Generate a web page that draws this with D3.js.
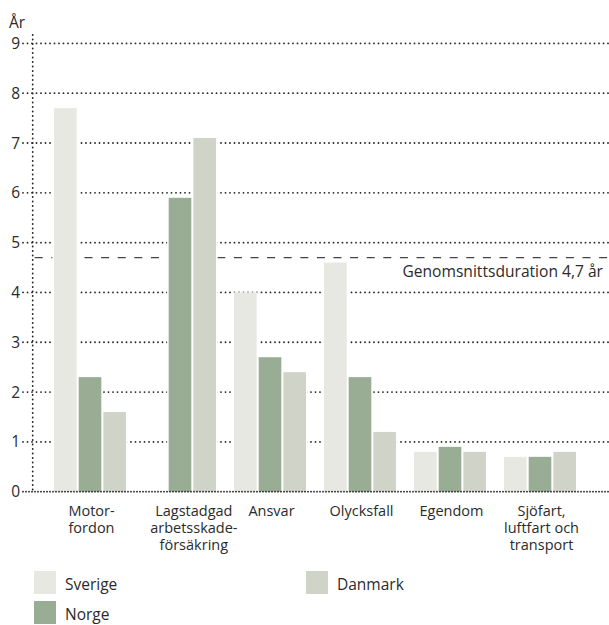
<!DOCTYPE html>
<html>
<head>
<meta charset="utf-8">
<script src="https://cdn.jsdelivr.net/npm/d3@7/dist/d3.min.js"></script>
<style>
  html, body { margin: 0; padding: 0; background: #fff; }
  svg text { font-family: "Open Sans", "Noto Sans", sans-serif; fill: #2b2b2b; }
</style>
</head>
<body>
<svg id="chart" width="609" height="625"></svg>
<script>
// Duration per line of business, in years
const categories = [
  ["Motor-", "fordon"],
  ["Lagstadgad", "arbetsskade-", "försäkring"],
  ["Ansvar"],
  ["Olycksfall"],
  ["Egendom"],
  ["Sjöfart,", "luftfart och", "transport"]
];
const seriesNames = ["Sverige", "Norge", "Danmark"];
const sverige = [7.7, null, 4.0, 4.6, 0.8, 0.7];
const norge   = [2.3, 5.9, 2.7, 2.3, 0.9, 0.7];
const danmark = [1.6, 7.1, 2.4, 1.2, 0.8, 0.8];
const yTicks = [0, 1, 2, 3, 4, 5, 6, 7, 8, 9];
const averageDuration = 4.7;
const averageLabel = "Genomsnittsduration 4,7 år";
const yAxisTitle = "År";

const colors = ["#e6e8e1", "#98ad93", "#d0d3c8"];
const seriesValues = [sverige, norge, danmark];

const svg = d3.select("#chart");
const W = 609;

const y = d3.scaleLinear().domain([0, 9]).range([491.7, 43.4]);
const x0 = d3.scaleBand().domain(d3.range(categories.length)).range([45, 585]).padding(0);
const x1 = d3.scaleBand().domain(d3.range(seriesNames.length))
  .range([(90 - 72) / 2, (90 - 72) / 2 + 72]).paddingInner(2 / 24).paddingOuter(0);

const axisLeft = 32.7;
const gridStart = 23;
const dotColor = "#222";

// dotted horizontal gridlines (with short tick stubs left of the axis)
svg.append("g").selectAll("line").data(yTicks.filter(d => d > 0)).join("line")
  .attr("x1", gridStart).attr("x2", W)
  .attr("y1", d => y(d)).attr("y2", d => y(d))
  .attr("stroke", dotColor).attr("stroke-width", 1.8)
  .attr("stroke-linecap", "round").attr("stroke-dasharray", "0,4.5");

// average duration reference line
svg.append("line")
  .attr("x1", axisLeft + 2).attr("x2", W)
  .attr("y1", y(averageDuration)).attr("y2", y(averageDuration))
  .attr("stroke", "#444").attr("stroke-width", 1.4)
  .attr("stroke-dasharray", "8,8.6");

svg.append("text")
  .attr("x", 603).attr("y", 277)
  .attr("text-anchor", "end")
  .attr("font-size", 15.6)
  .text(averageLabel);

// bars, each with a thin white margin that breaks the gridlines
const barData = [];
categories.forEach((c, i) => {
  seriesValues.forEach((vals, s) => {
    if (vals[i] != null) barData.push({ i, s, v: vals[i] });
  });
});

const bars = svg.append("g");
bars.selectAll("rect.gap").data(barData).join("rect")
  .attr("class", "gap")
  .attr("x", d => x0(d.i) + x1(d.s) - 1.6)
  .attr("width", x1.bandwidth() + 3.2)
  .attr("y", d => y(d.v))
  .attr("height", d => y(0) - y(d.v))
  .attr("fill", "#fff");
bars.selectAll("rect.bar").data(barData).join("rect")
  .attr("class", "bar")
  .attr("x", d => x0(d.i) + x1(d.s))
  .attr("width", x1.bandwidth())
  .attr("y", d => y(d.v))
  .attr("height", d => y(0) - y(d.v))
  .attr("fill", d => colors[d.s]);

// axes (dotted)
svg.append("line")
  .attr("x1", axisLeft).attr("x2", axisLeft)
  .attr("y1", 35).attr("y2", y(0))
  .attr("stroke", dotColor).attr("stroke-width", 1.8)
  .attr("stroke-linecap", "round").attr("stroke-dasharray", "0,4.5");
svg.append("line")
  .attr("x1", gridStart).attr("x2", W)
  .attr("y1", y(0)).attr("y2", y(0))
  .attr("stroke", dotColor).attr("stroke-width", 1.8)
  .attr("stroke-linecap", "round").attr("stroke-dasharray", "0,3");

// y tick labels
svg.append("g").selectAll("text").data(yTicks).join("text")
  .attr("x", 20).attr("y", d => y(d))
  .attr("dy", "0.36em")
  .attr("text-anchor", "end")
  .attr("font-size", 15.5)
  .text(d => d);

svg.append("text")
  .attr("x", 9).attr("y", 28)
  .attr("font-size", 15.5)
  .text(yAxisTitle);

// category labels, centred under the bars present in each group
const catG = svg.append("g");
categories.forEach((lines, i) => {
  const present = seriesValues.map((v, s) => v[i] != null ? s : null).filter(s => s != null);
  const left = x0(i) + x1(present[0]);
  const right = x0(i) + x1(present[present.length - 1]) + x1.bandwidth();
  const cx = (left + right) / 2 + 1.5;
  lines.forEach((ln, k) => {
    catG.append("text")
      .attr("text-anchor", "middle").attr("font-size", 14.5)
      .attr("x", cx).attr("y", 516 + k * 17).text(ln);
  });
});

// legend
const legendItems = [
  { name: seriesNames[0], color: colors[0], x: 34, y: 571 },
  { name: seriesNames[1], color: colors[1], x: 34, y: 601 },
  { name: seriesNames[2], color: colors[2], x: 306, y: 571 }
];
const lg = svg.append("g").selectAll("g").data(legendItems).join("g")
  .attr("transform", d => `translate(${d.x},${d.y})`);
lg.append("rect").attr("width", 22).attr("height", 23).attr("fill", d => d.color);
lg.append("text").attr("x", 31).attr("y", 18.5).attr("font-size", 15.5).text(d => d.name);
</script>
</body>
</html>
